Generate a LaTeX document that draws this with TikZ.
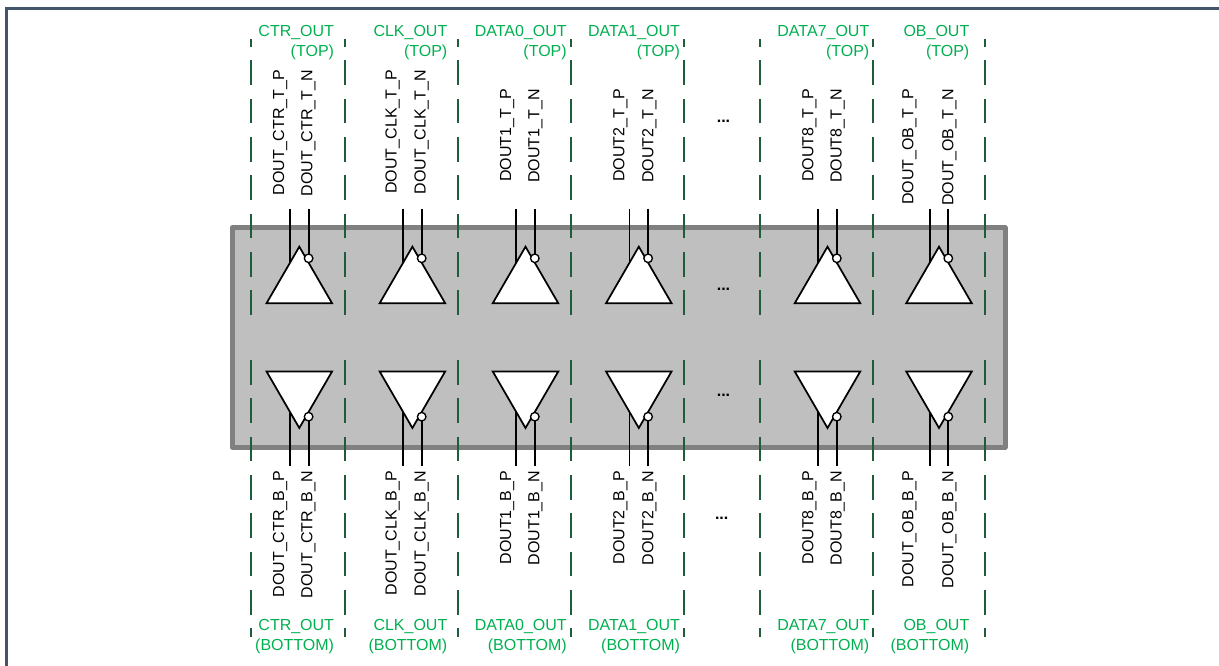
\documentclass[tikz,border=0pt]{standalone}
\usepackage{fontspec}
\setmainfont{Liberation Sans}
\usepackage{xcolor}
\usetikzlibrary{shapes.geometric}
\definecolor{FrameSlate}{HTML}{44546A}
\definecolor{LabelGreen}{HTML}{00B050}
\definecolor{SepGreen}{HTML}{1F5C3A}
\tikzset{
every node/.style={font=\fontsize{12}{14.6}\selectfont, inner sep=0pt, outer sep=0pt},
wire/.style={line width=1.45pt, black},
}

\begin{document}
\begin{tikzpicture}[
  x=0.75pt, y=-0.75pt,
  corebox/.style={rectangle, draw=black!50, fill=black!25, line width=3.75pt, line join=round,
    minimum width=579.75pt, minimum height=164.25pt},
  buf/.style={isosceles triangle, isosceles triangle stretches, draw=black, fill=white, line width=1.3pt,
    minimum width=49.2pt, minimum height=42.45pt},
  bubble/.style={circle, draw=black, fill=white, line width=1pt, minimum size=6.4pt},
  seppin/.style={line width=1.3pt, draw=SepGreen, dash pattern=on 18.6pt off 10.15pt},
  pinlabel/.style={rotate=90, anchor=base east},
  bufname/.style={text=LabelGreen, align=right, anchor=base east},
  moredots/.style={font=\fontsize{12}{14.6}\selectfont\bfseries, anchor=base},
]
\useasboundingbox (0,0) rectangle (1219,666);

%% ---- page frame, only top and left are visible ----
\coordinate (frameTR) at (1219,8.4);
\coordinate (frameTL) at (6.5,8.4);
\coordinate (frameBL) at (6.5,666);
\draw[FrameSlate, line width=2.4pt] (frameTR) -- (frameTL) -- (frameBL);

\node[corebox] (core) at (618.5,337.5) {};

%% Each separator has an upper and a lower run, both start with a whole dash
%% at the middle of the block so they mirror one another.
\def\sepline#1#2{
  \coordinate (sep#1a) at (#2,315);
  \coordinate (sep#1b) at (#2,39);
  \coordinate (sep#1c) at (#2,360);
  \coordinate (sep#1d) at (#2,636.5);
  \draw[seppin] (sep#1a) -- (sep#1b);
  \draw[seppin] (sep#1c) -- (sep#1d);
}
\sepline{0}{250.7}
\sepline{1}{345}
\sepline{2}{458.2}
\sepline{3}{571}
\sepline{4}{684.3}
\sepline{5}{760}
\sepline{6}{873}
\sepline{7}{984.7}

%% #1 id, #2 centre x, #3 group name, #4 right edge of group name,
%% #5 signal stem, #6 baseline of P label, #7 baseline of N label, #8 top of upper labels
\def\bufcol#1#2#3#4#5#6#7#8{
  %% ---- upper buffer ----
  \node[buf, shape border rotate=90, anchor=apex] (#1tbuf) at (#2,246.7) {};
  \node[bubble] (#1tdot) at (#2+9.3,258.3) {};
  \coordinate (#1tpin) at (#2-9.3,262.8);
  \coordinate (#1tp) at (#2-9.3,209);
  \coordinate (#1tn) at (#2+9.3,209);
  \draw[wire] (#1tp) -- (#1tpin);
  \draw[wire] (#1tn) -- (#1tdot.north);
  \node[pinlabel] (#1tplab) at (#6,#8) {#5\_T\_P};
  \node[pinlabel] (#1tnlab) at (#7,#8) {#5\_T\_N};
  \node[bufname] (#1tname) at (#4,56.3) {#3\\(TOP)};
  %% ---- lower buffer ----
  \node[buf, shape border rotate=-90, anchor=apex] (#1bbuf) at (#2,428) {};
  \node[bubble] (#1bdot) at (#2+9.3,416.7) {};
  \coordinate (#1bpin) at (#2-9.3,412);
  \coordinate (#1bp) at (#2-9.3,466);
  \coordinate (#1bn) at (#2+9.3,466);
  \draw[wire] (#1bp) -- (#1bpin);
  \draw[wire] (#1bn) -- (#1bdot.south);
  \node[pinlabel] (#1bplab) at (#6,471) {#5\_B\_P};
  \node[pinlabel] (#1bnlab) at (#7,471) {#5\_B\_N};
  \node[bufname] (#1bname) at (#4,650) {#3\\(BOTTOM)};
}
\bufcol{ctr}{299.3}{CTR\_OUT}{334}{DOUT\_CTR}{284}{312.3}{70}
\bufcol{clk}{412.4}{CLK\_OUT}{447.3}{DOUT\_CLK}{396.7}{425.7}{70}
\bufcol{dza}{525.5}{DATA0\_OUT}{566.7}{DOUT1}{511}{539.3}{89.3}
\bufcol{dzb}{638.8}{DATA1\_OUT}{680}{DOUT2}{624.3}{653.3}{89.3}
\bufcol{dzh}{827.5}{DATA7\_OUT}{869.3}{DOUT8}{813.3}{841.7}{89.3}
\bufcol{ob}{939}{OB\_OUT}{969.3}{DOUT\_OB}{913.3}{953.3}{89.3}

%% ---- columns left out ----
\node[moredots] (dots1) at (723.5,122.3) {...};
\node[moredots] (dots2) at (723.5,290.3) {...};
\node[moredots] (dots3) at (723.5,396) {...};
\node[moredots] (dots4) at (721.7,519) {...};
\end{tikzpicture}
\end{document}
